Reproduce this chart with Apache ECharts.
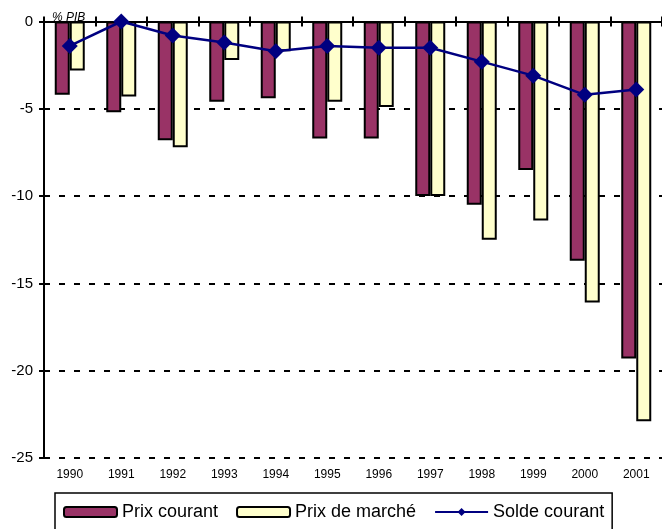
<!DOCTYPE html>
<html>
<head>
<meta charset="utf-8">
<script src="https://cdn.jsdelivr.net/npm/echarts@6/dist/echarts.min.js"></script>
<style>
html,body{margin:0;padding:0;background:#fff;}
#chart{width:662px;height:529px;}
</style>
</head>
<body>
<div id="chart"></div>
<script>
const categories = ['1990','1991','1992','1993','1994','1995','1996','1997','1998','1999','2000','2001'];
const prixCourant = [-4.2, -5.2, -6.8, -4.6, -4.4, -6.7, -6.7, -10.0, -10.5, -8.5, -13.7, -19.3];
const prixMarche = [-2.8, -4.3, -7.2, -2.2, -1.7, -4.6, -4.9, -10.0, -12.5, -11.4, -16.1, -22.9];
const soldeCourant = [-1.4, 0.0, -0.8, -1.2, -1.7, -1.4, -1.5, -1.5, -2.3, -3.1, -4.2, -3.9];
const unitLabel = '% PIB';

const chart = echarts.init(document.getElementById('chart'), null, {renderer: 'canvas'});
const font = 'Arial, "Liberation Sans", sans-serif';
chart.setOption({
  animation: false,
  backgroundColor: '#fff',
  grid: {left: 44, right: -1, top: 21.5, bottom: 71, containLabel: false},
  xAxis: [
    {
      type: 'category', data: categories, position: 'top', z: 3,
      axisLine: {show: true, onZero: false, lineStyle: {color: '#000', width: 2}},
      axisTick: {show: true, inside: false, length: 5, lineStyle: {color: '#000', width: 2}},
      axisLabel: {show: false}, splitLine: {show: false}
    },
    {
      type: 'category', data: categories, position: 'top',
      axisLine: {show: false, onZero: false},
      axisTick: {show: true, inside: true, length: 5, lineStyle: {color: '#000', width: 2}},
      axisLabel: {show: false}, splitLine: {show: false}
    },
    {
      type: 'category', data: categories, position: 'bottom',
      axisLine: {show: false, onZero: false},
      axisTick: {show: false},
      axisLabel: {show: true, color: '#000', fontSize: 12, fontFamily: font, margin: 11},
      splitLine: {show: false}
    }
  ],
  yAxis: {
    type: 'value', min: -25, max: 0, interval: 5,
    axisLine: {show: true, onZero: false, lineStyle: {color: '#000', width: 2}},
    axisTick: {show: true, inside: false, length: 5, lineStyle: {color: '#000', width: 2}},
    axisLabel: {color: '#000', fontSize: 15, fontFamily: font, margin: 11},
    splitLine: {show: true, lineStyle: {color: '#000', width: 2, type: [6, 9]}}
  },
  legend: {
    show: true, left: 55, top: 493, orient: 'horizontal',
    padding: [10, 8, 16, 8],
    borderColor: '#000', borderWidth: 1.5,
    itemWidth: 53, itemHeight: 10, itemGap: 18,
    textStyle: {color: '#000', fontSize: 18, fontFamily: font},
    data: [
      {name: 'Prix courant'},
      {name: 'Prix de marché'},
      {name: 'Solde courant'}
    ]
  },
  graphic: [{
    type: 'text', left: 52, top: 12, z: -1,
    style: {text: unitLabel, fontSize: 12, fontStyle: 'italic', fontFamily: font, fill: '#000'}
  }],
  series: [
    {
      name: 'Prix courant', type: 'bar', data: prixCourant, xAxisIndex: 0,
      barWidth: 15, barGap: '0%',
      itemStyle: {color: '#993366', borderColor: '#000', borderWidth: 2}
    },
    {
      name: 'Prix de marché', type: 'bar', data: prixMarche, xAxisIndex: 0,
      barWidth: 15, barGap: '0%',
      itemStyle: {color: '#FFFFCC', borderColor: '#000', borderWidth: 2}
    },
    {
      name: 'Solde courant', type: 'line', data: soldeCourant, xAxisIndex: 0,
      symbol: 'diamond', symbolSize: 16, z: 5,
      lineStyle: {color: '#000080', width: 2.5},
      itemStyle: {color: '#000080'}
    }
  ]
});
</script>
</body>
</html>
